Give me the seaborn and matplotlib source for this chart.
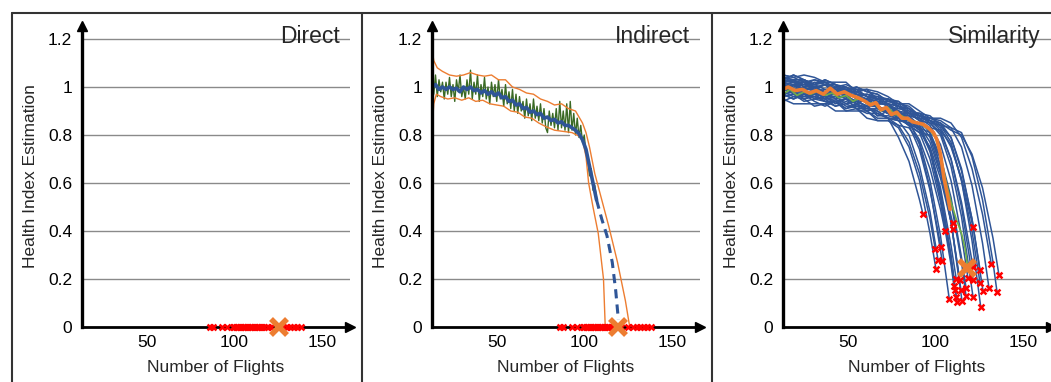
import pandas as pd
import seaborn as sns
import matplotlib.pyplot as plt
from matplotlib.lines import Line2D


# ---- values ----
yticks = [0, 0.2, 0.4, 0.6, 0.8, 1.0, 1.2]
ytick_labels = ["0", "0.2", "0.4", "0.6", "0.8", "1", "1.2"]
xticks = [50, 100, 150]
panel_titles = ["Direct", "Indirect", "Similarity"]

# true failure flights of the training units (red crosses on the x axis)
failure_flights = [86, 88, 93, 96, 99, 100, 101, 102, 103, 104, 105, 106, 107, 108,
                   109, 110, 111, 112, 113, 114, 115, 116, 117, 119, 121, 125, 128,
                   130, 132, 134, 136, 138]
direct_estimate = 125.6
indirect_estimate = 119.3
similarity_estimate = (118.0, 0.246)

# indirect: raw health index (green), flights 13..107
raw_flights = list(range(13, 108))
raw_hi = [1.00, 0.97, 1.05, 0.96, 1.03, 0.98, 1.02, 0.95, 1.02, 0.97, 1.04, 0.96, 1.01,
          0.94, 1.03, 0.98, 1.05, 0.96, 1.00, 0.95, 1.03, 0.97, 1.07, 0.95, 1.02, 0.97,
          1.05, 0.94, 1.01, 0.96, 1.04, 0.95, 1.00, 0.93, 1.02, 0.96, 1.01, 0.94, 1.03,
          0.95, 0.99, 0.92, 1.01, 0.93, 0.98, 0.91, 0.99, 0.90, 0.97, 0.89, 0.96, 0.90,
          0.94, 0.87, 0.95, 0.88, 0.93, 0.86, 0.95, 0.87, 0.92, 0.86, 0.93, 0.85, 0.91,
          0.83, 0.81, 0.90, 0.84, 0.89, 0.83, 0.91, 0.82, 0.94, 0.83, 0.90, 0.82, 0.93,
          0.81, 0.94, 0.82, 0.89, 0.80, 0.87, 0.79, 0.84, 0.77, 0.80, 0.72, 0.70, 0.63,
          0.66, 0.57, 0.59, 0.54]

# indirect: smoothed estimate (blue) and its extrapolation (dashed)
smooth_flights = [13, 15, 17, 19, 21, 23, 25, 27, 29, 31, 33, 35, 37, 39, 41, 43, 45, 47,
                  49, 51, 53, 55, 57, 59, 61, 63, 65, 67, 69, 71, 73, 75, 77, 79, 81, 83,
                  85, 87, 89, 91, 93, 95, 97, 99, 101, 103, 105, 107]
smooth_hi = [1.00, 1.01, 0.99, 1.00, 0.99, 1.00, 0.99, 0.995, 0.98, 1.00, 0.99, 1.00,
             0.985, 0.99, 0.975, 0.985, 0.97, 0.98, 0.965, 0.975, 0.955, 0.96, 0.94,
             0.945, 0.925, 0.93, 0.91, 0.915, 0.895, 0.90, 0.885, 0.89, 0.87, 0.875,
             0.86, 0.865, 0.85, 0.855, 0.84, 0.84, 0.83, 0.82, 0.805, 0.78, 0.74, 0.67,
             0.60, 0.53]
extrap_flights = [107, 110, 113, 116, 118, 119.5]
extrap_hi = [0.53, 0.45, 0.38, 0.27, 0.15, 0.03]

# indirect: confidence bounds (orange)
upper_flights = [13, 14, 16, 19, 23, 27, 31, 35, 39, 43, 47, 51, 55, 59, 63, 67, 71, 75,
                 79, 83, 87, 91, 95, 99, 101, 103, 106, 110, 114, 119, 123.5, 126]
upper_hi = [1.16, 1.11, 1.08, 1.065, 1.05, 1.045, 1.05, 1.06, 1.05, 1.045, 1.05, 1.03,
            1.03, 1.00, 0.99, 0.975, 0.97, 0.95, 0.94, 0.925, 0.93, 0.91, 0.90, 0.85,
            0.81, 0.75, 0.64, 0.53, 0.42, 0.27, 0.11, 0.0]
lower_flights = [13, 14, 15.5, 18, 22, 26, 30, 34, 38, 42, 46, 50, 54, 58, 62, 66, 70, 74,
                 78, 83, 88, 93, 97, 99, 101, 102.5, 105, 108, 111, 112]
lower_hi = [0.81, 0.93, 0.97, 0.96, 0.95, 0.955, 0.945, 0.955, 0.94, 0.945, 0.93, 0.925,
            0.92, 0.90, 0.895, 0.875, 0.87, 0.85, 0.835, 0.82, 0.815, 0.81, 0.795, 0.78,
            0.71, 0.60, 0.50, 0.39, 0.20, 0.0]

# similarity: training trajectories (HI x 100 sampled every 6 flights) and their end points
flight_grid = [13, 19, 25, 31, 37, 43, 49, 55, 61, 67, 73, 79, 85, 91, 97, 103, 109,
               115, 121, 127, 133]
similar_hi = [
    [97, 95, 97, 94, 92, 94, 91, 92, 90, 87, 87, 79, 69, 53],
    [99, 101, 99, 100, 97, 97, 97, 93, 95, 92, 90, 90, 87, 84, 77, 64],
    [100, 98, 96, 97, 96, 93, 95, 93, 91, 91, 89, 86, 86, 82, 75, 62],
    [97, 95, 97, 96, 94, 94, 95, 91, 91, 90, 87, 86, 85, 78, 66, 49],
    [104, 103, 100, 102, 101, 101, 98, 98, 99, 94, 94, 93, 89, 88, 86, 83, 75, 62],
    [94, 96, 95, 92, 93, 94, 90, 90, 90, 86, 86, 84, 77, 64, 45],
    [100, 98, 98, 98, 95, 96, 96, 93, 95, 91, 89, 88, 84, 74, 57],
    [97, 98, 95, 97, 94, 94, 91, 93, 91, 90, 87, 86, 80, 67, 48],
    [100, 101, 102, 98, 99, 99, 96, 97, 93, 93, 93, 90, 86, 76, 58],
    [95, 93, 93, 93, 93, 90, 90, 91, 87, 86, 86, 83, 75, 61, 39],
    [102, 101, 102, 100, 98, 100, 98, 96, 97, 95, 92, 91, 90, 86, 85, 81, 70, 52],
    [103, 105, 103, 101, 103, 101, 98, 100, 98, 97, 94, 94, 91, 88, 87, 85, 79, 65, 45],
    [105, 104, 105, 104, 102, 102, 102, 98, 99, 98, 96, 93, 93, 90, 87, 87, 85, 79, 66, 47],
    [104, 103, 101, 103, 101, 99, 100, 98, 96, 96, 95, 92, 89, 89, 86, 85, 82, 80, 72, 58, 37],
    [99, 98, 98, 95, 96, 96, 93, 94, 92, 88, 90, 87, 85, 82, 74, 58, 34],
    [98, 101, 99, 99, 97, 98, 96, 94, 95, 92, 90, 90, 86, 85, 79, 65, 44],
    [101, 102, 99, 99, 101, 97, 97, 97, 94, 93, 93, 89, 88, 87, 84, 76, 61, 38],
    [102, 103, 103, 100, 101, 101, 100, 97, 97, 96, 93, 92, 91, 87, 86, 82, 70, 50],
    [102, 100, 101, 99, 98, 98, 99, 95, 95, 94, 92, 89, 89, 86, 83, 82, 76, 61, 40],
    [97, 98, 95, 96, 95, 92, 94, 92, 92, 88, 88, 87, 84, 81, 70, 52, 26],
    [100, 98, 98, 98, 96, 97, 95, 94, 92, 92, 90, 87, 87, 83, 73, 54, 28],
    [101, 102, 102, 99, 101, 99, 97, 98, 96, 93, 93, 92, 88, 87, 81, 67, 44],
    [100, 97, 97, 97, 96, 94, 95, 93, 90, 91, 89, 88, 84, 83, 81, 71, 54, 29],
    [103, 102, 103, 101, 102, 99, 99, 99, 96, 95, 95, 92, 89, 89, 86, 84, 79, 66, 45],
    [105, 104, 102, 103, 102, 100, 101, 99, 99, 95, 95, 94, 90, 89, 88, 84, 83, 75, 59, 35],
    [103, 105, 103, 101, 103, 101, 99, 100, 98, 97, 94, 93, 92, 88, 87, 86, 83, 81, 71, 53, 27],
    [96, 97, 94, 95, 94, 92, 93, 91, 89, 89, 87, 84, 83, 77, 61, 38],
    [101, 99, 100, 98, 97, 98, 96, 94, 95, 92, 90, 89, 88, 84, 74, 56, 30],
    [99, 101, 97, 97, 98, 95, 96, 94, 92, 92, 89, 89, 86, 83, 74, 56, 29],
    [100, 101, 101, 100, 98, 98, 98, 95, 95, 94, 92, 89, 89, 86, 81, 67, 44],
    [98, 96, 96, 96, 95, 95, 92, 92, 92, 89, 87, 87, 84, 81, 80, 70, 52, 27],
    [102, 103, 100, 101, 99, 99, 99, 97, 95, 95, 93, 90, 89, 88, 85, 80, 67, 46],
    [104, 102, 102, 101, 102, 99, 99, 99, 96, 95, 95, 91, 91, 88, 85, 84, 77, 61, 36],
]
end_x = [93, 110, 110, 105.6, 121.6, 100, 103.3, 101.6, 104, 100.4, 121.6, 125.6, 132,
         136.4, 112, 114, 118.7, 121.6, 125.6, 110.7, 111.3, 114.7, 117.6, 127.3, 130.7,
         135.3, 108, 112, 112.4, 115.3, 117.6, 121.6, 126]
end_y = [0.47, 0.433, 0.408, 0.40, 0.417, 0.325, 0.333, 0.279, 0.275, 0.242, 0.25, 0.238,
         0.263, 0.217, 0.20, 0.196, 0.204, 0.196, 0.183, 0.171, 0.154, 0.154, 0.163, 0.15,
         0.163, 0.146, 0.117, 0.125, 0.104, 0.108, 0.129, 0.125, 0.083]

# similarity: test unit history (orange) and best matching unit (green)
test_flights = [13, 16, 20, 24, 28, 32, 36, 40, 44, 48, 52, 56, 60, 63, 66, 69, 72, 75, 78,
                81, 84, 87, 90, 93, 96, 99, 101, 103, 105, 107, 108.5]
test_hi = [0.99, 1.0, 0.985, 0.99, 0.975, 0.985, 0.97, 0.995, 0.97, 0.98, 0.965, 0.955,
           0.94, 0.925, 0.935, 0.905, 0.915, 0.885, 0.895, 0.87, 0.87, 0.855, 0.85, 0.845,
           0.83, 0.81, 0.78, 0.72, 0.62, 0.55, 0.49]
match_flights = [13, 17, 21, 25, 29, 33, 37, 41, 45, 49, 53, 57, 61, 65, 69, 73, 77, 81,
                 85, 89, 93, 97, 100, 103, 106, 109, 112, 115, 117, 118.5]
match_hi = [0.97, 0.99, 0.965, 0.98, 0.97, 0.985, 0.965, 0.975, 0.955, 0.965, 0.94, 0.955,
            0.93, 0.935, 0.90, 0.915, 0.885, 0.88, 0.86, 0.855, 0.84, 0.82, 0.79, 0.72,
            0.61, 0.52, 0.45, 0.39, 0.33, 0.25]

rows = []
for unit, (ys, xe, ye) in enumerate(zip(similar_hi, end_x, end_y)):
    xs = flight_grid[:len(ys)] + [xe]
    vals = [v / 100 for v in ys] + [ye]
    rows += [(unit, x, v) for x, v in zip(xs, vals)]
traj = pd.DataFrame(rows, columns=["unit", "flight", "hi"])

# ---- style ----
sns.set_style("white")
plt.rcParams["font.family"] = ["Liberation Sans", "DejaVu Sans"]

BLUE = "#2f5597"
ORANGE = "#ed7d31"
RED = "#ff0000"
DKGREEN = "#3a6a24"
LTGREEN = "#70ad47"
GRID = "#8a8a8a"

W, H = 1051, 382
fig = plt.figure(figsize=(W / 100, H / 100), dpi=100)

ax_left_px = [82, 432, 783]
ax_w_px = 267.75
ax_bottom_px = 327
ylim_top = 1.255
ax_h_px = ylim_top * 240
axes = [fig.add_axes([l / W, (H - ax_bottom_px) / H, ax_w_px / W, ax_h_px / H])
        for l in ax_left_px]

# panel frames
for xp in [12, 362, 712]:
    fig.add_artist(Line2D([xp / W, xp / W], [0, (H - 13) / H], color="#333333", lw=1.5))
fig.add_artist(Line2D([12 / W, 1], [(H - 13) / H, (H - 13) / H], color="#333333", lw=1.5))


def red_crosses(ax, xs, ys):
    sns.scatterplot(x=xs, y=ys, marker="x", color=RED, s=18, linewidth=1.8,
                    clip_on=False, zorder=6, ax=ax)


def big_cross(ax, x, y):
    ax.plot([x], [y], marker="x", ms=11, mew=4, color=ORANGE, clip_on=False, zorder=7)


# Direct
ax = axes[0]
red_crosses(ax, failure_flights, [0] * len(failure_flights))
big_cross(ax, direct_estimate, 0)

# Indirect
ax = axes[1]
sns.lineplot(x=raw_flights, y=raw_hi, color=DKGREEN, lw=1.0, sort=False, estimator=None, ax=ax)
sns.lineplot(x=upper_flights, y=upper_hi, color=ORANGE, lw=1.0, sort=False, estimator=None, ax=ax)
sns.lineplot(x=lower_flights, y=lower_hi, color=ORANGE, lw=1.0, sort=False, estimator=None, ax=ax)
sns.lineplot(x=smooth_flights, y=smooth_hi, color=BLUE, lw=2.6, sort=False, estimator=None, ax=ax)
sns.lineplot(x=extrap_flights, y=extrap_hi, color=BLUE, lw=2.2, sort=False, estimator=None,
             linestyle=(0, (3, 2)), ax=ax)
red_crosses(ax, failure_flights, [0] * len(failure_flights))
big_cross(ax, indirect_estimate, 0)

# Similarity
ax = axes[2]
sns.lineplot(data=traj, x="flight", y="hi", units="unit", estimator=None, sort=False,
             color=BLUE, lw=1.1, ax=ax)
sns.lineplot(x=match_flights, y=match_hi, color=LTGREEN, lw=1.2, sort=False, estimator=None, ax=ax)
sns.lineplot(x=test_flights, y=test_hi, color=ORANGE, lw=2.6, sort=False, estimator=None, ax=ax)
red_crosses(ax, end_x, end_y)
big_cross(ax, *similarity_estimate)

for i, (ax, title) in enumerate(zip(axes, panel_titles)):
    ax.set_xlim(13, 166)
    ax.set_ylim(0, ylim_top)
    for y in yticks[1:]:
        if i == 1 and y == 0.8:
            ax.axhline(y, xmax=(91 - 13) / 153, color=GRID, lw=1.0, zorder=0)
        else:
            ax.axhline(y, color=GRID, lw=1.0, zorder=0)
    for s in ["top", "right"]:
        ax.spines[s].set_visible(False)
    ax.spines["left"].set_linewidth(2.4)
    ax.spines["bottom"].set_linewidth(2.0)
    ax.spines["left"].set_color("black")
    ax.spines["bottom"].set_color("black")
    ax.spines["left"].set_zorder(5)
    ax.spines["bottom"].set_zorder(5)
    ax.set_xticks(xticks)
    ax.set_yticks(yticks)
    ax.set_yticklabels(ytick_labels)
    ax.tick_params(axis="both", length=0, labelsize=12.5, colors="black")
    ax.tick_params(axis="x", pad=5.5)
    ax.tick_params(axis="y", pad=7)
    # arrow heads at the ends of both axes
    ax.plot(1, 0, ">k", ms=7, transform=ax.transAxes, clip_on=False, zorder=6)
    ax.plot(0, 1, "^k", ms=7, transform=ax.transAxes, clip_on=False, zorder=6)
    ax.set_xlabel("Number of Flights", fontsize=12.5)
    ax.set_ylabel("Health Index Estimation", fontsize=12.5)
    ax.xaxis.set_label_coords(0.5, -0.11)
    ax.yaxis.set_label_coords(-0.164, 0.5)
    ax.text(160.4, 1.183, title, ha="right", va="baseline", fontsize=16.5, zorder=8)
    ax.set_facecolor("none")

fig.savefig("out.png", dpi=100)
